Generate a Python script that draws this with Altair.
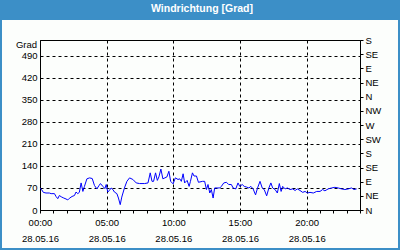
import altair as alt
import pandas as pd

# minutes after midnight (28.05.16) and wind direction in degrees
minutes = [0, 7, 15, 27, 42, 50, 65, 72, 80, 87, 98, 107, 117, 125, 132, 144, 155, 162, 170, 177,
           185, 193, 200, 211, 223, 235, 245, 256, 265, 272, 283, 292, 298, 305, 313, 320, 328, 335,
           346, 353, 361, 368, 380, 391, 403, 418, 433, 448, 471, 486, 496, 504, 511, 520, 528, 535,
           544, 553, 562, 571, 580, 588, 599, 609, 621, 629, 636, 644, 651, 662, 671, 677, 686, 693,
           704, 713,
           731, 741, 749, 756, 764, 771, 779, 786, 797, 809, 816, 827, 839, 849, 861, 869, 881, 891,
           899, 910, 919, 929, 940, 949, 959, 970, 979, 990, 1000, 1009, 1020, 1030, 1039, 1047,
           1058, 1068, 1077, 1085, 1092, 1103, 1113, 1125, 1137, 1148, 1158, 1170, 1182, 1193, 1203,
           1215, 1230, 1245, 1260, 1272, 1282, 1297, 1312, 1327, 1342, 1357, 1372, 1387, 1402, 1413,
           1425]
degrees = [70, 65, 56, 54, 54, 52, 52, 43, 36, 46, 41, 38, 35, 32, 37, 43, 46, 57, 52, 56,
           86, 59, 75, 99, 102, 100, 78, 67, 77, 84, 75, 68, 81, 57, 63, 70, 65, 57,
           52, 38, 17, 41, 70, 91, 102, 97, 86, 84, 84, 86, 118, 91, 91, 118, 94, 105,
           130, 99, 102, 105, 123, 91, 83, 102, 97, 99, 91, 115, 86, 94, 75, 91, 118, 108,
           108, 88,
           91, 91, 65, 81, 54, 65, 38, 70, 70, 70, 75, 86, 88, 81, 81, 70, 67, 86,
           75, 81, 75, 73, 70, 75, 67, 48, 70, 91, 70, 65, 45, 70, 86, 70,
           65, 54, 84, 59, 75, 67, 70, 65, 67, 62, 67, 62, 56, 59, 54,
           56, 54, 59, 59, 65, 61, 67, 70, 72, 70, 67, 65, 67, 70, 65,
           67]

left_ticks = [0, 70, 140, 210, 280, 350, 420, 490]
right_ticks = list(range(0, 541, 45))
compass = ["N", "NE", "E", "SE", "S", "SW", "W", "NW"]
hour_ticks = list(range(0, 25))
date_label = "28.05.16"
title_text = "Windrichtung [Grad]"
unit_text = "Grad"

df = pd.DataFrame({"h": [m / 60 for m in minutes], "v": degrees})
one = pd.DataFrame({"k": [0]})

FONT = "Liberation Sans"
FS = 9.5
BLUE = "#3c8fc7"

xscale = alt.Scale(domain=[0, 24], nice=False, zero=False)
yscale = alt.Scale(domain=[0, 540], nice=False, zero=True)

bar = alt.Chart(one).mark_rect(color=BLUE).encode(
    x=alt.value(-40), x2=alt.value(360), y=alt.value(-40), y2=alt.value(-20)
)
border = alt.Chart(one).mark_rect(filled=False, stroke=BLUE, strokeWidth=2).encode(
    x=alt.value(-39), x2=alt.value(359), y=alt.value(-39), y2=alt.value(209)
)
title = alt.Chart(one).mark_text(
    text=title_text, font=FONT, fontSize=10.5, fontWeight="bold", color="white",
    align="center", baseline="alphabetic"
).encode(x=alt.value(162), y=alt.value(-28))
unit = alt.Chart(one).mark_text(
    text=unit_text, font=FONT, fontSize=FS, color="black", align="right", baseline="alphabetic"
).encode(x=alt.value(-3), y=alt.value(8))

label_expr = (
    "datum.value % 5 === 0 ? [(datum.value < 10 ? '0' : '') + datum.value + ':00', '"
    + date_label + "'] : ''"
)

line = alt.Chart(df).mark_line(color="#0000ff", strokeWidth=1).encode(
    x=alt.X("h:Q", scale=xscale, axis=alt.Axis(
        values=hour_ticks, grid=True, gridDash=[3, 3], gridColor="black",
        gridOpacity={"condition": {"test": "datum.value % 5 === 0", "value": 1}, "value": 0},
        tickSize=3, labelExpr=label_expr, labelOverlap=False, labelFlush=False,
        labelPadding=4, labelLineHeight=16, labelBaseline="top", title=None)),
    y=alt.Y("v:Q", scale=yscale, axis=alt.Axis(
        values=left_ticks, grid=True, gridDash=[3, 3], gridColor="black",
        ticks=False, labelPadding=3, title=None, labelOverlap=False)),
)

right_expr = "[" + ",".join("'" + c + "'" for c in compass) + "][(datum.value / 45) % 8]"
right = alt.Chart(df).mark_point(opacity=0).encode(
    y=alt.Y("v:Q", scale=yscale, axis=alt.Axis(
        orient="right", values=right_ticks, labelExpr=right_expr, grid=False,
        tickSize=3, labelPadding=2, title=None, labelOverlap=False)),
)

chart = alt.layer(bar, border, title, unit, line, right).resolve_scale(
    y="independent"
).properties(
    width=320, height=170,
    autosize=alt.AutoSizeParams(type="none"),
    padding={"left": 40, "top": 40, "right": 40, "bottom": 40},
    background="#fcfefc",
).configure_view(
    stroke="black", strokeWidth=1
).configure_axis(
    labelFont=FONT, labelFontSize=FS, labelColor="black",
    domainColor="black", tickColor="black", domainWidth=1
)

chart.save("out.html", embed_options={"renderer": "svg", "actions": False})
